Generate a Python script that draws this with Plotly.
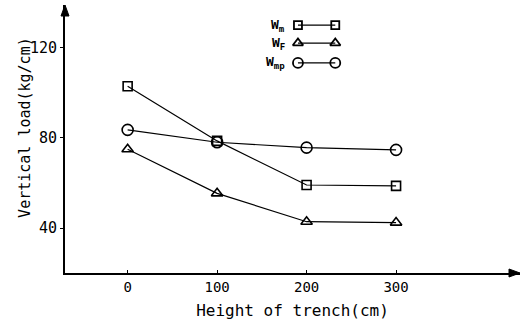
import plotly.graph_objects as go

heights = [0, 100, 200, 300]
w_m = [103, 78.7, 59.1, 58.7]
w_f = [75, 55.4, 42.8, 42.4]
w_mp = [83.6, 78.1, 75.7, 74.7]
series_names = ["W<sub>m</sub>", "W<sub>F</sub>", "W<sub>mp</sub>"]
x_ticks = [0, 100, 200, 300]
y_ticks = [40, 80, 120]

FONT = "DejaVu Sans Mono"
symbols = ["square-open", "triangle-up-open", "circle-open"]
sizes = [9, 10, 11]

fig = go.Figure()
for vals, sym, sz in zip([w_m, w_f, w_mp], symbols, sizes):
    fig.add_trace(go.Scatter(
        x=heights, y=vals, mode="lines+markers",
        line=dict(color="black", width=1.2),
        marker=dict(symbol=sym, size=sz, color="black", line=dict(width=1.6, color="black")),
        showlegend=False, cliponaxis=False))

# custom legend (overlay axes in fractional coordinates)
leg_x = [0.512, 0.594]
leg_y = [0.925, 0.858, 0.784]
for name, sym, sz, ly in zip(series_names, symbols, sizes, leg_y):
    fig.add_trace(go.Scatter(
        x=leg_x, y=[ly, ly], xaxis="x2", yaxis="y2", mode="lines+markers",
        line=dict(color="black", width=1.2),
        marker=dict(symbol=sym, size=sz - 1, color="black", line=dict(width=1.8, color="black")),
        showlegend=False, hoverinfo="skip"))
    fig.add_annotation(x=0.488, y=ly, xref="x2", yref="y2", text="<b>" + name + "</b>",
                       showarrow=False, xanchor="right", yanchor="middle",
                       font=dict(family=FONT, size=13, color="black"))

fig.update_layout(
    width=525, height=326,
    margin=dict(l=65, r=5, t=5, b=53),
    paper_bgcolor="white", plot_bgcolor="white",
    font=dict(family=FONT, color="black"),
    xaxis=dict(range=[-70, 438.5], tickvals=x_ticks, ticktext=[str(v) for v in x_ticks],
               showgrid=False, zeroline=False, showline=True, linecolor="black", linewidth=2,
               ticks="inside", ticklen=3, tickcolor="black", automargin=False,
               tickfont=dict(family=FONT, size=14),
               title=dict(text="Height of trench(cm)", font=dict(family=FONT, size=16), standoff=11)),
    yaxis=dict(range=[20, 139.1], tickvals=y_ticks, ticktext=[str(v) for v in y_ticks],
               showgrid=False, zeroline=False, showline=True, linecolor="black", linewidth=2,
               ticks="outside", ticklen=3, tickcolor="black", automargin=False,
               tickfont=dict(family=FONT, size=15)),
    xaxis2=dict(range=[0, 1], overlaying="x", visible=False, domain=[0, 1]),
    yaxis2=dict(range=[0, 1], overlaying="y", visible=False),
)

# y-axis title placed as in the reference (slightly above centre)
fig.add_annotation(x=-0.088, y=0.545, xref="paper", yref="paper", text="Vertical load(kg/cm)",
                   textangle=-90, showarrow=False, xanchor="center", yanchor="middle",
                   font=dict(family=FONT, size=15, color="black"))

# axis arrowheads (paper coordinates; plot area is 455 x 268 px)
pw, ph = 455.0, 268.0
fig.add_shape(type="path", xref="paper", yref="paper",
              path=f"M 1 0 L {1 - 11/pw} {4/ph} L {1 - 11/pw} {-4/ph} Z",
              fillcolor="black", line=dict(color="black", width=1))
fig.add_shape(type="path", xref="paper", yref="paper",
              path=f"M 0 1 L {4/pw} {1 - 11/ph} L {-4/pw} {1 - 11/ph} Z",
              fillcolor="black", line=dict(color="black", width=1))

fig.write_html("out.html", post_script="document.body.style.margin='0';",
               config={"displayModeBar": False})
